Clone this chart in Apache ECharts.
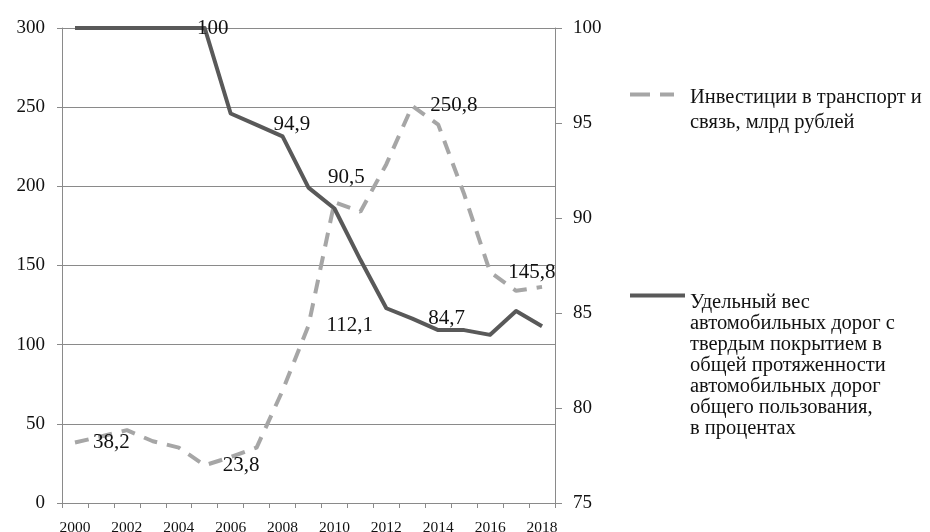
<!DOCTYPE html>
<html>
<head>
<meta charset="utf-8">
<script src="https://cdn.jsdelivr.net/npm/echarts@6/dist/echarts.min.js"></script>
<style>
  html, body { margin: 0; padding: 0; background: #fff; }
  #chart { width: 930px; height: 532px; }
</style>
</head>
<body>
<div id="chart"></div>
<script>
// Years on the category axis
const years = ['2000','2001','2002','2003','2004','2005','2006','2007','2008','2009',
               '2010','2011','2012','2013','2014','2015','2016','2017','2018'];

// Investment in transport and communications, bn rubles (left axis)
const investment = [38.2, 42, 46, 39, 35, 23.8, 29, 35, 71, 112.1,
                    190, 184, 214, 250.8, 239, 195, 145.8, 134, 136.5];

// Share of paved roads in public road length, % (right axis)
const pavedShare = [100, 100, 100, 100, 100, 100, 95.5, 94.9, 94.3, 91.6,
                    90.5, 87.8, 85.25, 84.7, 84.1, 84.1, 83.85, 85.1, 84.3];

// Years whose values are printed next to the line
const investmentLabelled = ['2000', '2005', '2009', '2013', '2016'];
const pavedLabelled = ['2005', '2007', '2010', '2013'];

// Left and right axis tick settings
const leftAxis = { min: 0, max: 300, step: 50 };
const rightAxis = { min: 75, max: 100, step: 5 };

const investmentName = 'Инвестиции в транспорт и\nсвязь, млрд рублей';
const pavedName = 'Удельный вес\nавтомобильных дорог с\nтвердым покрытием в\nобщей протяженности\nавтомобильных дорог\nобщего пользования,\nв процентах';

const FONT = '"Liberation Serif", "Times New Roman", serif';
const GRID_GRAY = '#8a8a8a';
const TEXT = '#111';

const fmt = v => String(v).replace('.', ',');

const labelBase = {
  show: true,
  color: TEXT,
  fontFamily: FONT,
  fontSize: 21,
  formatter: p => fmt(p.value)
};

// Per-point label placement for the paved-roads line
const pavedLabelPos = {
  '2005': { position: 'inside', offset: [8, 0] },
  '2007': { position: 'right', distance: 17 },
  '2010': { position: 'top', distance: 21, offset: [12, 0] },
  '2013': { position: 'right', distance: 16 }
};

const investmentData = investment.map((v, i) =>
  investmentLabelled.includes(years[i])
    ? { value: v, label: Object.assign({}, labelBase, { position: 'right', distance: 18 }) }
    : v);

const pavedData = pavedShare.map((v, i) =>
  pavedLabelled.includes(years[i])
    ? { value: v, label: Object.assign({}, labelBase, pavedLabelPos[years[i]]) }
    : v);

// Multi-line legend text as rich tokens so the block can be padded
const richLines = name => name.split('\n').map(s => '{t|' + s + '}').join('\n');

const chart = echarts.init(document.getElementById('chart'), null, { renderer: 'canvas' });

const legendCommon = {
  orient: 'vertical',
  left: 628,
  padding: 0,
  itemHeight: 14,
  selectedMode: false,
  formatter: richLines,
  itemStyle: { color: 'rgba(0,0,0,0)', borderWidth: 0, opacity: 0 }
};

chart.setOption({
  backgroundColor: '#ffffff',
  animation: false,
  grid: { left: 62, right: 375, top: 28, bottom: 29, containLabel: false, outerBoundsMode: 'none' },
  legend: [
    Object.assign({}, legendCommon, {
      top: 87,
      data: [investmentName],
      itemWidth: 44,
      lineStyle: { type: [20, 10], width: 4, color: '#a6a6a6', cap: 'butt' },
      textStyle: {
        padding: [31, 0, 0, 11],
        rich: { t: { fontFamily: FONT, fontSize: 20.5, lineHeight: 25, color: TEXT } }
      }
    }),
    Object.assign({}, legendCommon, {
      top: 290,
      data: [pavedName],
      itemWidth: 55,
      lineStyle: { type: 'solid', width: 4, color: '#595959' },
      textStyle: {
        padding: [140, 0, 0, 0],
        rich: { t: { fontFamily: FONT, fontSize: 20.5, lineHeight: 21, color: TEXT } }
      }
    })
  ],
  xAxis: {
    type: 'category',
    data: years,
    boundaryGap: true,
    axisLine: { show: true, lineStyle: { color: GRID_GRAY, width: 1 } },
    axisTick: { show: true, interval: 0, length: 5, lineStyle: { color: GRID_GRAY } },
    axisLabel: { interval: 1, margin: 17, color: TEXT, fontFamily: FONT, fontSize: 15.5 },
    splitLine: { show: false }
  },
  yAxis: [
    {
      type: 'value',
      position: 'left',
      min: leftAxis.min, max: leftAxis.max, interval: leftAxis.step,
      axisLine: { show: true, lineStyle: { color: GRID_GRAY, width: 1 } },
      axisTick: { show: true, length: 5, lineStyle: { color: GRID_GRAY } },
      axisLabel: { margin: 17, color: TEXT, fontFamily: FONT, fontSize: 19 },
      splitLine: { show: true, lineStyle: { color: GRID_GRAY, width: 1 } }
    },
    {
      type: 'value',
      position: 'right',
      min: rightAxis.min, max: rightAxis.max, interval: rightAxis.step,
      axisLine: { show: true, lineStyle: { color: GRID_GRAY, width: 1 } },
      axisTick: { show: true, length: 7, lineStyle: { color: GRID_GRAY } },
      axisLabel: { margin: 18, color: TEXT, fontFamily: FONT, fontSize: 19 },
      splitLine: { show: false }
    }
  ],
  series: [
    {
      name: investmentName,
      type: 'line',
      yAxisIndex: 0,
      data: investmentData,
      symbol: 'circle',
      symbolSize: 0,
      showSymbol: true,
      itemStyle: { color: '#a6a6a6' },
      lineStyle: { color: '#a6a6a6', width: 4, type: [14, 10], cap: 'butt' },
      emphasis: { disabled: true },
      z: 2
    },
    {
      name: pavedName,
      type: 'line',
      yAxisIndex: 1,
      data: pavedData,
      symbol: 'circle',
      symbolSize: 0,
      showSymbol: true,
      itemStyle: { color: '#595959' },
      lineStyle: { color: '#595959', width: 4, join: 'round' },
      emphasis: { disabled: true },
      z: 3
    }
  ]
});
</script>
</body>
</html>
